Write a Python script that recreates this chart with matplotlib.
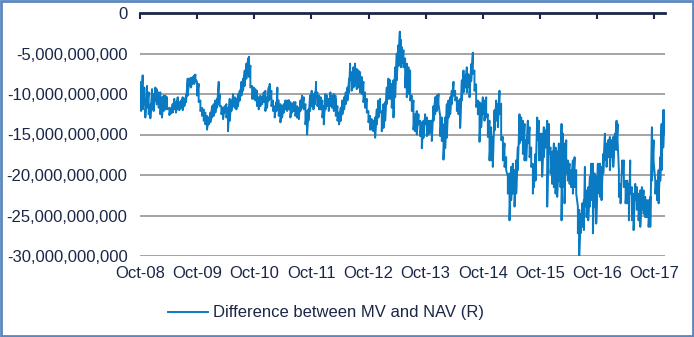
import matplotlib
matplotlib.use("Agg")
import matplotlib.pyplot as plt
from matplotlib.patches import Rectangle
from matplotlib.ticker import FuncFormatter

# years since Oct-2008, with the upper and lower reach of the daily series (in bn)
t_years = [
    0.000, 0.018, 0.047, 0.076, 0.093, 0.123, 0.152, 0.181, 0.210, 0.239, 0.269, 0.292, 0.327,
    0.356, 0.385, 0.415, 0.444, 0.473, 0.514, 0.543, 0.572, 0.601, 0.630, 0.660, 0.689, 0.718,
    0.747, 0.776, 0.806, 0.835, 0.864, 0.893, 0.922, 0.951, 0.969, 0.998, 1.027, 1.057, 1.086,
    1.115, 1.144, 1.173, 1.203, 1.232, 1.261, 1.290, 1.319, 1.349, 1.378, 1.395, 1.424, 1.454,
    1.483, 1.512, 1.541, 1.570, 1.600, 1.629, 1.658, 1.687, 1.716, 1.746, 1.775, 1.804, 1.833,
    1.862, 1.891, 1.909, 1.932, 1.962, 1.991, 2.020, 2.049, 2.078, 2.107, 2.137, 2.166, 2.195,
    2.224, 2.253,
    2.271, 2.300, 2.329, 2.358, 2.388, 2.405, 2.428, 2.458, 2.487, 2.516, 2.545, 2.574, 2.604,
    2.633, 2.662, 2.691, 2.720, 2.750, 2.779, 2.808, 2.837, 2.866, 2.896, 2.925, 2.948, 2.977,
    3.006, 3.036, 3.065, 3.082, 3.106, 3.135, 3.164, 3.193, 3.217, 3.246, 3.275, 3.304, 3.333,
    3.363, 3.392, 3.421,
    3.427, 3.456, 3.485, 3.514, 3.543, 3.573, 3.602, 3.631, 3.660, 3.678, 3.707, 3.736, 3.765,
    3.794, 3.824, 3.853, 3.882, 3.911, 3.940, 3.970, 3.999, 4.028, 4.057, 4.086, 4.116, 4.145,
    4.174, 4.203, 4.232, 4.262, 4.291, 4.320, 4.349, 4.378, 4.407, 4.437, 4.466, 4.495, 4.524,
    4.548, 4.565,
    4.583, 4.612, 4.641, 4.670, 4.699, 4.729, 4.758, 4.787, 4.816, 4.845, 4.875, 4.904, 4.933,
    4.962, 4.991, 5.021, 5.050, 5.079, 5.108, 5.137, 5.166, 5.196, 5.225, 5.254, 5.283, 5.312,
    5.342, 5.371, 5.400, 5.429, 5.458, 5.488, 5.517, 5.546, 5.575, 5.604, 5.634, 5.663, 5.692,
    5.721,
    5.738, 5.768, 5.797, 5.826, 5.855, 5.884, 5.914, 5.943, 5.972, 6.001, 6.030, 6.060, 6.089,
    6.118, 6.147, 6.176, 6.206, 6.235, 6.264, 6.293, 6.322, 6.352, 6.381, 6.410, 6.439, 6.468,
    6.497, 6.527, 6.556, 6.585, 6.614, 6.643, 6.673, 6.702, 6.731, 6.760, 6.789, 6.819, 6.848,
    6.877,
    6.894, 6.923, 6.953, 6.982, 7.011, 7.040, 7.069, 7.099, 7.128, 7.157, 7.186, 7.215, 7.245,
    7.274, 7.303, 7.332, 7.361, 7.379, 7.402, 7.431, 7.461, 7.490, 7.519, 7.548, 7.577, 7.607,
    7.636, 7.665, 7.688, 7.712, 7.741, 7.770, 7.788, 7.817, 7.846, 7.875, 7.898, 7.928, 7.957,
    7.986, 8.015, 8.044,
    8.050, 8.079, 8.109, 8.138, 8.167, 8.196, 8.225, 8.254, 8.284, 8.313, 8.342, 8.360, 8.383,
    8.412, 8.441, 8.470, 8.500, 8.529, 8.558, 8.581, 8.611, 8.640, 8.669, 8.698, 8.727, 8.757,
    8.786, 8.815, 8.844, 8.873, 8.903, 8.932, 8.961, 8.990, 9.019, 9.049, 9.078, 9.107, 9.130,
    9.159, 9.177,
]

upper = [
    -8.5, -10.2, -7.7, -9.2, -11.3, -9.0, -9.8, -11.3, -9.4, -10.0, -9.2, -9.4, -9.8,
    -9.8, -10.4, -10.2, -10.2, -10.4, -11.7, -11.75, -11.25, -10.6, -11.0, -10.4, -11.0, -10.8,
    -10.4, -10.6, -10.1, -8.1, -8.1, -8.0, -7.9, -7.7, -7.6, -8.5, -8.75, -10.8, -11.7,
    -11.9, -12.3, -12.7, -12.9, -12.3, -11.5, -11.25, -10.8, -10.6, -8.5, -10.0, -11.5, -11.7,
    -11.5, -11.25, -11.7, -10.6, -10.8, -10.0, -10.4, -10.6, -10.0, -9.6, -8.5, -8.1, -7.1,
    -6.25, -5.6, -5.4, -6.5, -9.0, -9.2, -9.4, -9.6, -10.4, -10.2, -10.4, -9.8, -9.6,
    -10.4, -9.2,
    -8.75, -9.6, -10.8, -11.5, -11.0, -9.2, -10.8, -11.25, -11.5, -11.25, -10.8, -10.8, -10.75,
    -11.0, -11.25, -11.0, -11.0, -11.5, -11.7, -10.8, -10.2, -10.4, -11.25, -12.1, -11.9, -10.2,
    -9.6, -10.0, -9.8, -8.5, -9.8, -10.2, -10.4, -10.8, -11.5, -10.0, -10.2, -10.6, -9.8,
    -10.2, -10.0, -10.2,
    -10.6, -11.5, -12.3, -11.7, -10.8, -10.4, -9.8, -9.2, -8.1, -6.25, -7.3, -6.7, -6.25,
    -6.9, -7.1, -7.3, -7.9, -8.5, -9.8, -10.6, -12.1, -12.7, -13.1, -13.3, -12.9, -11.9,
    -10.8, -10.6, -12.1, -11.25, -11.0, -9.2, -8.1, -8.3, -8.75, -8.3, -6.7, -5.0, -3.96,
    -2.3, -3.3,
    -4.2, -4.6, -5.6, -6.25, -6.7, -7.1, -10.2, -10.8, -12.5, -12.1, -12.5, -13.3, -13.5,
    -13.3, -12.5, -12.9, -13.3, -13.3, -13.3, -11.5, -10.4, -10.2, -10.0, -12.7, -12.9, -13.75,
    -12.9, -11.25, -10.8, -10.4, -9.6, -8.5, -9.6, -10.4, -10.8, -10.6, -8.3, -7.1, -7.7,
    -6.7,
    -7.5, -7.7, -6.3, -4.9, -7.1, -8.8, -10.8, -11.0, -11.2, -10.4, -10.8, -10.4, -12.5,
    -13.3, -14.1, -15.3, -12.0, -10.8, -11.2, -9.6, -11.2, -15.3, -16.1, -17.8, -20.2, -19.8,
    -19.0, -18.6, -19.4, -18.2, -16.6, -12.5, -12.9, -13.3, -13.7, -15.7, -13.3, -14.1, -16.6,
    -18.6,
    -19.4, -17.4, -12.9, -13.3, -14.9, -14.9, -14.1, -14.5, -13.3, -13.7, -16.6, -17.1, -16.1,
    -16.6, -17.1, -16.1, -18.2, -13.7, -14.9, -16.1, -15.7, -18.2, -18.6, -19.4, -18.2, -17.8,
    -19.4, -23.9, -24.3, -24.8, -23.5, -23.1, -19.0, -21.9, -21.5, -20.2, -18.6, -18.6, -19.8,
    -20.2, -18.6, -19.4,
    -18.6, -19.0, -17.4, -14.9, -16.1, -15.7, -15.3, -15.7, -15.3, -14.9, -13.3, -13.7, -19.4,
    -21.1, -18.2, -18.2, -20.7, -20.7, -21.1, -18.2, -21.5, -22.3, -21.1, -21.5, -22.3, -21.9,
    -21.5, -21.9, -22.7, -23.1, -23.1, -22.7, -14.1, -15.7, -20.7, -20.7, -19.4, -17.8, -13.7,
    -12.0, -12.0,
]

lower = [
    -10.2, -12.1, -11.9, -11.3, -12.9, -11.7, -12.5, -13.0, -11.9, -12.1, -10.8, -11.3, -11.7,
    -12.5, -12.9, -12.1, -11.9, -11.9, -12.6, -12.4, -12.3, -11.9, -12.3, -11.9, -12.0, -11.7,
    -12.0, -11.5, -11.0, -10.2, -9.0, -9.2, -8.75, -8.75, -8.1, -10.2, -11.0, -12.1, -12.7,
    -13.3, -13.75, -14.4, -13.75, -13.5, -12.9, -12.7, -12.3, -11.7, -11.25, -11.5, -12.5, -13.1,
    -12.3, -12.9, -14.6, -13.3, -12.1, -11.5, -11.7, -11.9, -11.5, -10.8, -10.2, -9.6, -9.0,
    -8.1, -7.5, -7.9, -9.2, -10.6, -10.6, -10.8, -11.5, -11.9, -11.5, -11.25, -11.0, -12.1,
    -11.7, -10.8,
    -10.6, -11.5, -12.1, -12.9, -12.1, -10.8, -12.7, -13.5, -12.9, -12.3, -11.9, -12.1, -11.9,
    -12.9, -12.3, -12.1, -12.7, -12.9, -13.1, -12.1, -11.7, -11.9, -13.75, -15.0, -13.3, -12.1,
    -11.5, -11.9, -11.25, -10.4, -11.5, -11.9, -11.9, -12.9, -13.75, -11.9, -11.5, -12.1, -11.5,
    -11.7, -12.1, -11.5,
    -12.7, -13.3, -13.75, -13.3, -12.5, -11.9, -11.25, -10.8, -9.8, -8.3, -9.6, -9.2, -9.0,
    -9.4, -9.2, -9.8, -10.0, -11.0, -11.7, -12.3, -13.5, -14.4, -14.4, -14.6, -15.4, -13.75,
    -12.9, -12.3, -14.6, -14.2, -13.3, -11.25, -10.6, -10.6, -11.7, -12.9, -10.4, -8.3, -6.5,
    -5.0, -6.7,
    -6.25, -6.7, -9.2, -10.4, -10.0, -10.8, -12.1, -14.4, -14.6, -15.0, -13.75, -15.2, -16.7,
    -15.4, -13.75, -15.2, -15.0, -14.8, -15.8, -13.3, -12.5, -12.1, -11.25, -15.2, -15.8, -18.1,
    -16.7, -15.4, -12.9, -12.5, -11.25, -10.2, -10.8, -12.1, -12.5, -14.2, -10.8, -9.8, -9.2,
    -9.8,
    -9.2, -10.4, -8.4, -7.5, -9.6, -11.6, -12.5, -15.9, -14.1, -12.5, -13.3, -12.9, -15.3,
    -18.2, -18.2, -19.0, -14.5, -13.3, -14.1, -12.5, -15.7, -18.2, -19.0, -19.4, -22.3, -25.6,
    -23.1, -22.3, -23.9, -22.3, -19.4, -16.1, -15.7, -17.4, -18.2, -18.2, -16.1, -17.8, -19.0,
    -22.3,
    -21.5, -20.7, -15.7, -18.2, -18.2, -20.2, -17.8, -16.6, -23.9, -17.4, -19.8, -21.1, -21.5,
    -22.3, -22.7, -20.7, -21.5, -25.6, -21.5, -23.5, -19.8, -20.7, -21.1, -21.5, -22.3, -21.5,
    -22.3, -27.2, -30.1, -27.2, -26.4, -26.8, -23.9, -25.2, -25.6, -23.9, -23.1, -27.2, -23.9,
    -26.0, -22.3, -21.5,
    -22.7, -23.1, -19.8, -18.2, -19.0, -17.8, -19.4, -17.8, -19.0, -16.9, -16.9, -15.7, -22.7,
    -23.5, -19.8, -21.5, -23.5, -23.5, -25.6, -22.3, -25.6, -26.8, -23.1, -24.3, -25.6, -26.4,
    -24.3, -24.8, -25.2, -25.2, -26.4, -26.4, -20.7, -18.2, -22.3, -23.1, -23.5, -20.7, -19.4,
    -16.6, -14.9,
]

tick_labels = ["Oct-08", "Oct-09", "Oct-10", "Oct-11", "Oct-12",
               "Oct-13", "Oct-14", "Oct-15", "Oct-16", "Oct-17"]

# zig-zag through upper and lower values to get the daily noise look
xs, ys = [], []
for t, hi, lo in zip(t_years, upper, lower):
    xs += [t, t]
    ys += [hi * 1e9, lo * 1e9]

plt.rcParams['font.family'] = ['Liberation Sans', 'DejaVu Sans']
navy = '#1B2748'

fig = plt.figure(figsize=(6.94, 3.37), dpi=100)
ax = fig.add_axes([140 / 694, 1 - 256 / 337, 525 / 694, 243 / 337])

ax.plot(xs, ys, color='#0A7BC2', lw=1.4, label='Difference between MV and NAV (R)')

ax.set_xlim(0, 9.19)
ax.set_ylim(-30e9, 0)
ax.set_yticks([-30e9, -25e9, -20e9, -15e9, -10e9, -5e9, 0])
ax.yaxis.set_major_formatter(FuncFormatter(lambda v, p: f"{v:,.0f}"))
ax.set_xticks(range(len(tick_labels)))
ax.set_xticklabels(tick_labels)

ax.grid(axis='y', color='#8C8C8C', lw=1.1)
ax.set_axisbelow(True)
for s in ['left', 'right', 'bottom']:
    ax.spines[s].set_visible(False)
ax.spines['top'].set_color(navy)
ax.spines['top'].set_linewidth(2)

ax.tick_params(axis='y', length=0, pad=9, labelsize=12, labelcolor=navy)
ax.tick_params(axis='x', bottom=False, top=True, labelbottom=True, labeltop=False,
               direction='in', length=4, width=1.5, color=navy,
               pad=7, labelsize=12, labelcolor=navy)

leg = fig.legend(loc='center', bbox_to_anchor=(326 / 694, 1 - 313 / 337), frameon=False,
                 fontsize=12, handlelength=2.4, handletextpad=0.3)
for txt in leg.get_texts():
    txt.set_color(navy)

fig.patches.append(Rectangle((0.002, 0.003), 0.996, 0.994, transform=fig.transFigure,
                             fill=False, edgecolor='#5B86BE', lw=2))

fig.savefig('out.png', dpi=100)
